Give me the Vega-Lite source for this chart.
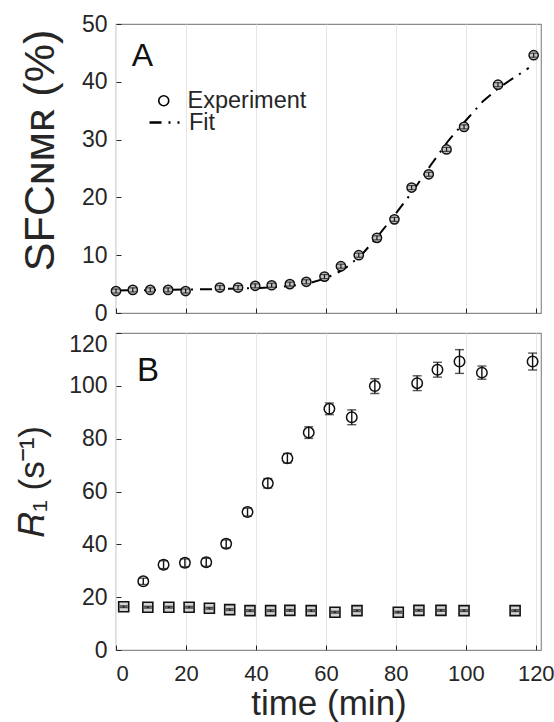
{
  "$schema": "https://vega.github.io/schema/vega-lite/v6.json",
  "padding": {"left": 15, "top": 12, "right": 0, "bottom": 0},
  "background": "white",
  "config": {
    "font": "Liberation Sans",
    "view": {"stroke": "#8c8c8c", "strokeWidth": 1.2},
    "axis": {
      "labelFont": "Liberation Sans", "labelFontSize": 23, "labelColor": "#262626",
      "titleColor": "#262626", "titleFont": "Liberation Sans", "titleFontWeight": "normal",
      "domain": false, "tickColor": "#262626", "tickSize": -5, "labelPadding": 14,
      "gridColor": "#e6e6e6", "gridWidth": 1
    },
    "axisY": {"grid": false},
    "legend": {"labelFont": "Liberation Sans", "labelFontSize": 23.5, "labelColor": "#262626", "padding": 0, "title": null},
    "concat": {"spacing": 5}
  },
  "datasets": {
    "sfc": [
      {"t": 0, "v": 3.8, "err": 0.35},
      {"t": 4.8, "v": 4.0, "err": 0.35},
      {"t": 9.8, "v": 4.0, "err": 0.35},
      {"t": 14.9, "v": 4.0, "err": 0.35},
      {"t": 19.9, "v": 3.8, "err": 0.35},
      {"t": 29.7, "v": 4.4, "err": 0.35},
      {"t": 34.9, "v": 4.4, "err": 0.35},
      {"t": 39.8, "v": 4.7, "err": 0.35},
      {"t": 44.5, "v": 4.8, "err": 0.35},
      {"t": 49.7, "v": 5.0, "err": 0.35},
      {"t": 54.4, "v": 5.4, "err": 0.35},
      {"t": 59.6, "v": 6.3, "err": 0.35},
      {"t": 64.3, "v": 8.1, "err": 0.35},
      {"t": 69.4, "v": 10.0, "err": 0.35},
      {"t": 74.6, "v": 13.0, "err": 0.35},
      {"t": 79.6, "v": 16.2, "err": 0.35},
      {"t": 84.5, "v": 21.7, "err": 0.35},
      {"t": 89.4, "v": 24.0, "err": 0.35},
      {"t": 94.5, "v": 28.3, "err": 0.35},
      {"t": 99.5, "v": 32.2, "err": 0.35},
      {"t": 109.2, "v": 39.5, "err": 0.35},
      {"t": 119.4, "v": 44.6, "err": 0.35}
    ],
    "fit": [
      {"t": 0, "v": 3.9}, {"t": 10, "v": 3.95}, {"t": 20, "v": 4.05}, {"t": 30, "v": 4.15},
      {"t": 40, "v": 4.3}, {"t": 45, "v": 4.45}, {"t": 50, "v": 4.7}, {"t": 55, "v": 5.1},
      {"t": 60, "v": 6.0}, {"t": 65, "v": 7.5}, {"t": 70, "v": 9.9}, {"t": 75, "v": 13.4},
      {"t": 80, "v": 17.2}, {"t": 85, "v": 21.2}, {"t": 90, "v": 25.6}, {"t": 95, "v": 29.8},
      {"t": 100, "v": 33.3}, {"t": 105, "v": 36.7}, {"t": 110, "v": 39.2}, {"t": 115, "v": 41.2},
      {"t": 118, "v": 42.4}
    ],
    "r1": [
      {"t": 7.8, "v": 26.0, "err": 1.2}, {"t": 13.6, "v": 32.3, "err": 1.5},
      {"t": 19.7, "v": 33.0, "err": 1.5}, {"t": 25.8, "v": 33.2, "err": 1.5},
      {"t": 31.5, "v": 40.2, "err": 1.5}, {"t": 37.6, "v": 52.2, "err": 1.5},
      {"t": 43.4, "v": 63.1, "err": 1.8}, {"t": 49.0, "v": 72.6, "err": 1.8},
      {"t": 55.1, "v": 82.3, "err": 2.2}, {"t": 61.0, "v": 91.3, "err": 2.2},
      {"t": 67.4, "v": 88.1, "err": 2.8}, {"t": 74.0, "v": 99.9, "err": 2.8},
      {"t": 86.1, "v": 101.0, "err": 2.8}, {"t": 91.9, "v": 106.1, "err": 2.8},
      {"t": 98.2, "v": 109.2, "err": 4.5}, {"t": 104.6, "v": 105.0, "err": 2.5},
      {"t": 119.1, "v": 109.2, "err": 3.2}
    ],
    "r2": [
      {"t": 2.2, "v": 16.4, "err": 0.3}, {"t": 9.1, "v": 16.2, "err": 0.3},
      {"t": 15.1, "v": 16.2, "err": 0.3}, {"t": 20.9, "v": 16.2, "err": 0.3},
      {"t": 26.7, "v": 15.8, "err": 0.3}, {"t": 32.5, "v": 15.3, "err": 0.3},
      {"t": 38.3, "v": 14.9, "err": 0.3}, {"t": 44.2, "v": 14.9, "err": 0.3},
      {"t": 49.7, "v": 15.0, "err": 0.3}, {"t": 55.8, "v": 14.9, "err": 0.3},
      {"t": 62.6, "v": 14.3, "err": 0.3}, {"t": 68.9, "v": 14.9, "err": 0.3},
      {"t": 80.7, "v": 14.3, "err": 0.3}, {"t": 86.6, "v": 15.0, "err": 0.3},
      {"t": 92.9, "v": 15.0, "err": 0.3}, {"t": 99.5, "v": 14.9, "err": 0.3},
      {"t": 114.1, "v": 14.9, "err": 0.3}
    ]
  },
  "vconcat": [
    {
      "width": 425,
      "height": 289,
      "layer": [
        {
          "data": {"name": "fit"},
          "mark": {"type": "line", "stroke": "black", "strokeWidth": 2},
          "encoding": {
            "x": {"field": "t", "type": "quantitative", "title": null,
              "scale": {"domain": [0, 121.5], "nice": false},
              "axis": {"values": [0, 20, 40, 60, 80, 100, 120], "labels": false, "grid": true}},
            "y": {"field": "v", "type": "quantitative", "title": "SFCɴᴍʀ (%)",
              "scale": {"domain": [0, 50], "nice": false},
              "axis": {"values": [0, 10, 20, 30, 40, 50], "titleFontSize": 43, "titlePadding": 19, "titleY": 126}},
            "strokeDash": {"datum": "Fit", "type": "nominal",
              "scale": {"domain": ["Fit"], "range": [[12, 7, 2, 7]]},
              "legend": {"orient": "none", "legendX": 32, "legendY": 82, "symbolSize": 900,
                "symbolStrokeWidth": 2.5, "symbolStrokeColor": "black", "labelOffset": 8}}
          }
        },
        {
          "data": {"name": "sfc"},
          "mark": {"type": "point", "filled": true, "fill": "#c4c4c4", "strokeWidth": 0, "size": 85, "opacity": 1},
          "encoding": {
            "x": {"field": "t", "type": "quantitative", "title": null},
            "y": {"field": "v", "type": "quantitative", "title": "SFCɴᴍʀ (%)"}
          }
        },
        {
          "data": {"name": "sfc"},
          "mark": {"type": "point", "filled": false, "stroke": "#111", "strokeWidth": 1.5, "size": 85, "opacity": 1},
          "encoding": {
            "x": {"field": "t", "type": "quantitative", "title": null},
            "y": {"field": "v", "type": "quantitative", "title": "SFCɴᴍʀ (%)"},
            "shape": {"datum": "Experiment", "type": "nominal",
              "scale": {"domain": ["Experiment"], "range": ["circle"]},
              "legend": {"orient": "none", "legendX": 36, "legendY": 65,
                "symbolStrokeColor": "black", "symbolStrokeWidth": 1.6, "labelOffset": 12}}
          }
        },
        {
          "data": {"name": "sfc"},
          "mark": {"type": "errorbar", "color": "#111", "thickness": 1.2, "ticks": {"size": 9}},
          "encoding": {
            "x": {"field": "t", "type": "quantitative", "title": null},
            "y": {"field": "v", "type": "quantitative", "title": "SFCɴᴍʀ (%)"},
            "yError": {"field": "err"}
          }
        },
        {
          "data": {"values": [{"label": "A"}]},
          "mark": {"type": "text", "fontSize": 32, "align": "left", "baseline": "alphabetic", "color": "#111", "font": "Liberation Sans"},
          "encoding": {
            "x": {"datum": 4.5, "type": "quantitative"},
            "y": {"datum": 42.7, "type": "quantitative"},
            "text": {"field": "label", "type": "nominal"}
          }
        }
      ]
    },
    {
      "width": 425,
      "height": 317,
      "layer": [
        {
          "data": {"name": "r2"},
          "mark": {"type": "point", "shape": "square", "filled": true, "fill": "#d4d4d4", "stroke": "#111", "strokeWidth": 1.6, "size": 100, "opacity": 1},
          "encoding": {
            "x": {"field": "t", "type": "quantitative", "title": "time (min)",
              "scale": {"domain": [0, 121.5], "nice": false},
              "axis": {"values": [0, 20, 40, 60, 80, 100, 120], "titleFontSize": 35, "titlePadding": 2, "labelPadding": 18, "labelFontSize": 22, "grid": true}},
            "y": {"field": "v", "type": "quantitative", "title": "𝑅₁ (s⁻¹)",
              "scale": {"domain": [0, 120], "nice": false},
              "axis": {"values": [0, 20, 40, 60, 80, 100, 120], "titleFontSize": 35, "titlePadding": 18, "titleY": 148,
                "labelBaseline": {"condition": {"test": "datum.value === 120", "value": "top"}, "value": "middle"}}}
          }
        },
        {
          "data": {"name": "r2"},
          "mark": {"type": "errorbar", "color": "#111", "thickness": 1.5, "ticks": {"size": 8}},
          "encoding": {
            "x": {"field": "t", "type": "quantitative", "title": "time (min)"},
            "y": {"field": "v", "type": "quantitative", "title": "𝑅₁ (s⁻¹)"},
            "yError": {"field": "err"}
          }
        },
        {
          "data": {"name": "r1"},
          "mark": {"type": "point", "shape": "circle", "filled": false, "stroke": "#111", "strokeWidth": 1.5, "size": 110, "opacity": 1},
          "encoding": {
            "x": {"field": "t", "type": "quantitative", "title": "time (min)"},
            "y": {"field": "v", "type": "quantitative", "title": "𝑅₁ (s⁻¹)"}
          }
        },
        {
          "data": {"name": "r1"},
          "mark": {"type": "errorbar", "color": "#111", "thickness": 1.4, "ticks": {"size": 9}},
          "encoding": {
            "x": {"field": "t", "type": "quantitative", "title": "time (min)"},
            "y": {"field": "v", "type": "quantitative", "title": "𝑅₁ (s⁻¹)"},
            "yError": {"field": "err"}
          }
        },
        {
          "data": {"values": [{"label": "B"}]},
          "mark": {"type": "text", "fontSize": 33, "align": "left", "baseline": "alphabetic", "color": "#111", "font": "Liberation Sans"},
          "encoding": {
            "x": {"datum": 6, "type": "quantitative"},
            "y": {"datum": 102, "type": "quantitative"},
            "text": {"field": "label", "type": "nominal"}
          }
        }
      ]
    }
  ]
}
